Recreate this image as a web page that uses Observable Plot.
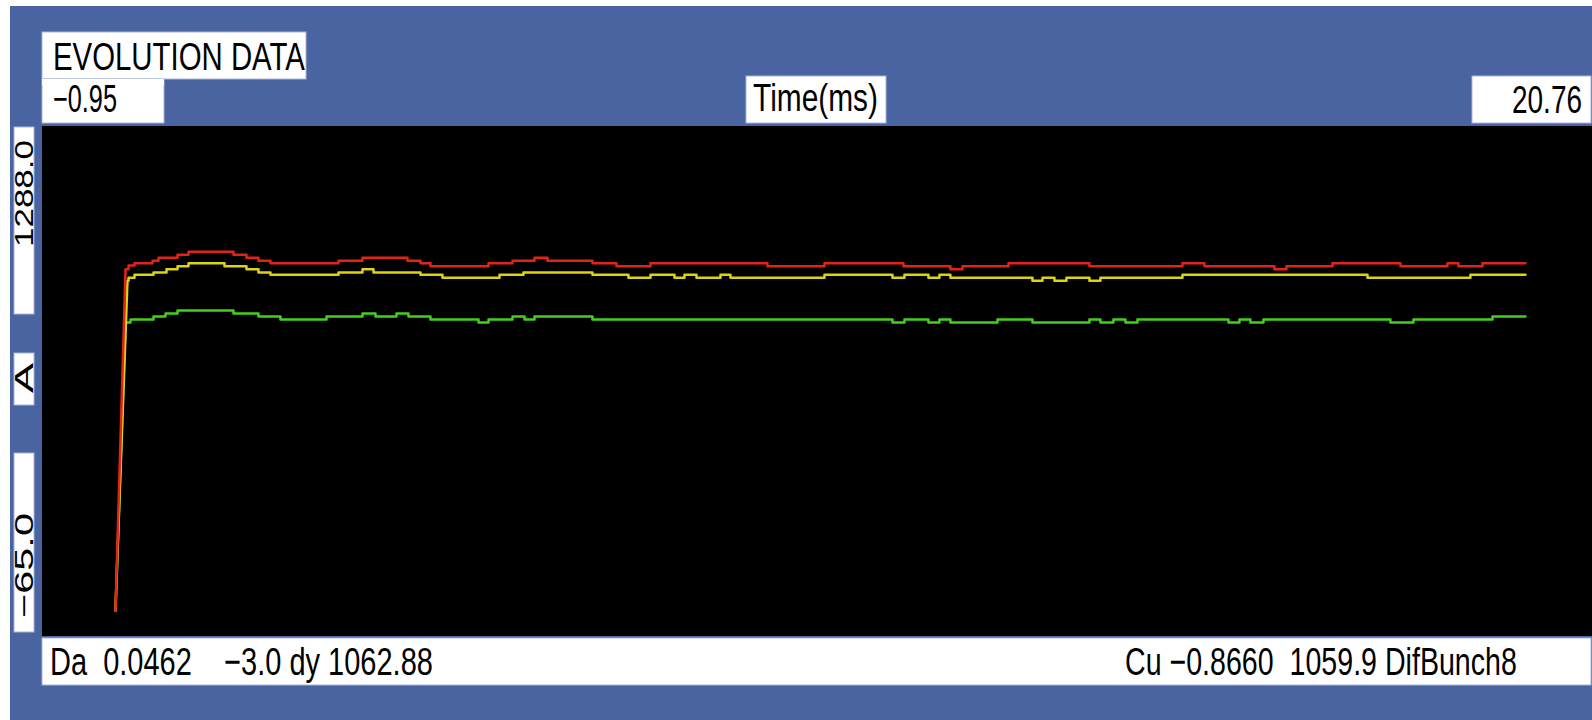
<!DOCTYPE html>
<html>
<head>
<meta charset="utf-8">
<script src="https://cdn.jsdelivr.net/npm/d3@7"></script>
<script src="https://cdn.jsdelivr.net/npm/@observablehq/plot@0.6"></script>
<style>
  html, body { margin: 0; padding: 0; background: #fff; }
  #root { position: relative; width: 1592px; height: 720px; overflow: hidden; }
  #overlay { position: absolute; left: 0; top: 0; }
  #chart { position: absolute; left: 42px; top: 126px; }
  text { font-family: "Liberation Sans", Arial, "DejaVu Sans", sans-serif; fill: #000; white-space: pre; }
</style>
</head>
<body>
<div id="root">
  <svg id="overlay" width="1592" height="720"></svg>
  <div id="chart"></div>
</div>
<script>
// ---- Texts / tick labels ----
const titleText = "EVOLUTION DATA";
const xAxisLabel = "Time(ms)";
const xMinLabel = "\u22120.95";
const xMaxLabel = "20.76";
const yMaxLabel = "1288.0";
const yMinLabel = "\u221265.0";
const yAxisLabel = "A";
const footerLeft = "Da  0.0462    \u22123.0 dy 1062.88";
const footerRight = "Cu \u22120.8660  1059.9 DifBunch8";

// ---- Axis domains ----
const xDomain = [-0.95, 20.76];
const yDomain = [-65, 1288];
const tEnd = 19.821;

// ---- Series (first point = start of the rise, then each level's start time) ----
const redT = [0.072, 0.213, 0.255, 0.339, 0.591, 0.675, 0.941, 1.095, 1.725, 1.907, 2.075, 2.243, 3.196, 3.532, 4.162, 4.344, 4.484, 5.297, 5.633, 5.941, 6.123, 6.753, 7.089, 7.566, 9.204, 10.003, 11.109, 11.767, 11.936, 12.580, 13.714, 15.017, 15.325, 16.305, 16.473, 17.118, 18.070, 18.728, 18.883, 19.219];
const redV = [4, 909, 919, 925, 932, 940, 948, 956, 948, 940, 932, 925, 932, 940, 932, 925, 917, 925, 932, 940, 932, 925, 917, 925, 917, 925, 917, 909, 917, 925, 917, 925, 917, 909, 917, 925, 917, 925, 917, 925];

const yellowT = [0.072, 0.240, 0.255, 0.339, 0.605, 0.787, 0.941, 1.095, 1.599, 1.907, 2.075, 2.243, 3.196, 3.532, 3.686, 4.344, 4.652, 5.451, 5.787, 6.753, 7.257, 7.566, 7.902, 8.042, 8.210, 8.546, 8.686, 10.003, 10.955, 11.123, 11.459, 11.613, 11.767, 12.916, 13.056, 13.224, 13.392, 13.714, 13.868, 15.017, 17.608, 19.050];
const yellowV = [4, 879, 887, 895, 901, 909, 917, 925, 917, 909, 901, 895, 901, 909, 901, 895, 887, 895, 901, 895, 887, 895, 887, 895, 887, 895, 887, 895, 887, 895, 887, 895, 887, 879, 887, 879, 887, 879, 887, 895, 887, 895];

const greenT = [0.072, 0.213, 0.283, 0.605, 0.773, 0.941, 1.725, 2.075, 2.383, 3.028, 3.532, 3.714, 4.008, 4.176, 4.484, 5.157, 5.297, 5.633, 5.801, 5.941, 6.753, 10.955, 11.123, 11.459, 11.613, 11.767, 12.426, 12.916, 13.714, 13.868, 14.050, 14.218, 14.387, 15.661, 15.815, 15.969, 16.151, 17.930, 18.252, 19.359];
const greenV = [4, 768, 776, 784, 792, 800, 792, 784, 776, 784, 792, 784, 792, 784, 776, 768, 776, 784, 776, 784, 776, 768, 776, 768, 776, 768, 776, 768, 776, 768, 776, 768, 776, 768, 776, 768, 776, 768, 776, 784];

function stepPoints(ts, vs, end) {
  const pts = [{t: ts[0], v: vs[0]}];
  for (let i = 1; i < ts.length; i++) {
    const next = i + 1 < ts.length ? ts[i + 1] : end;
    pts.push({t: ts[i], v: vs[i]}, {t: next, v: vs[i]});
  }
  return pts;
}
const red = stepPoints(redT, redV, tEnd);
const yellow = stepPoints(yellowT, yellowV, tEnd);
const green = stepPoints(greenT, greenV, tEnd);

// ---- Frame / labels (SVG overlay around the chart) ----
const svg = d3.select("#overlay");
const blue = "#4a63a1";
svg.append("rect").attr("x", 10).attr("y", 6).attr("width", 1582).attr("height", 714).attr("fill", blue);
const boxes = [
  [42, 32, 264, 47], [42, 79, 122, 44], [746, 76, 140, 47], [1472, 76, 119, 47],
  [14, 127, 20, 187], [14, 353, 20, 52], [14, 453, 20, 179], [42, 638, 1549, 47]
];
for (const [x, y, w, h] of boxes) {
  svg.append("rect").attr("x", x).attr("y", y).attr("width", w).attr("height", h)
    .attr("fill", "#fff").attr("stroke", "#a9b6d8").attr("stroke-width", 1);
}
svg.append("rect").attr("x", 42).attr("y", 79).attr("width", 122).attr("height", 6).attr("fill", "#fff");

function txt(s, x, y, len, size, rot) {
  const t = svg.append("text").text(s).attr("font-size", size).attr("x", 0).attr("y", 0);
  const w = t.node().getComputedTextLength() || len;
  const sx = len / w;
  t.attr("transform", `translate(${x},${y})${rot ? " rotate(-90)" : ""} scale(${sx},1)`);
}
txt(titleText, 53, 70, 252, 38);
txt(xMinLabel, 53, 112, 64, 38);
txt(xAxisLabel, 753, 111, 125, 38);
txt(xMaxLabel, 1512, 113, 70, 38);
txt(footerLeft, 50, 675, 383, 39);
txt(footerRight, 1125, 675, 392, 39);
txt(yMaxLabel, 33, 247, 107, 26, true);
txt(yAxisLabel, 33, 393, 30, 26, true);
txt(yMinLabel, 33, 618, 105, 26, true);

// ---- Chart ----
const chart = Plot.plot({
  width: 1550,
  height: 510,
  margin: 0,
  x: {domain: xDomain, axis: null},
  y: {domain: yDomain, axis: null},
  style: {background: "#000"},
  marks: [
    Plot.line(green, {x: "t", y: "v", stroke: "#44d01c", strokeWidth: 2.5}),
    Plot.line(yellow, {x: "t", y: "v", stroke: "#dcd312", strokeWidth: 2.5}),
    Plot.line(red, {x: "t", y: "v", stroke: "#e3231a", strokeWidth: 2.5})
  ]
});
document.getElementById("chart").appendChild(chart);
</script>
</body>
</html>
